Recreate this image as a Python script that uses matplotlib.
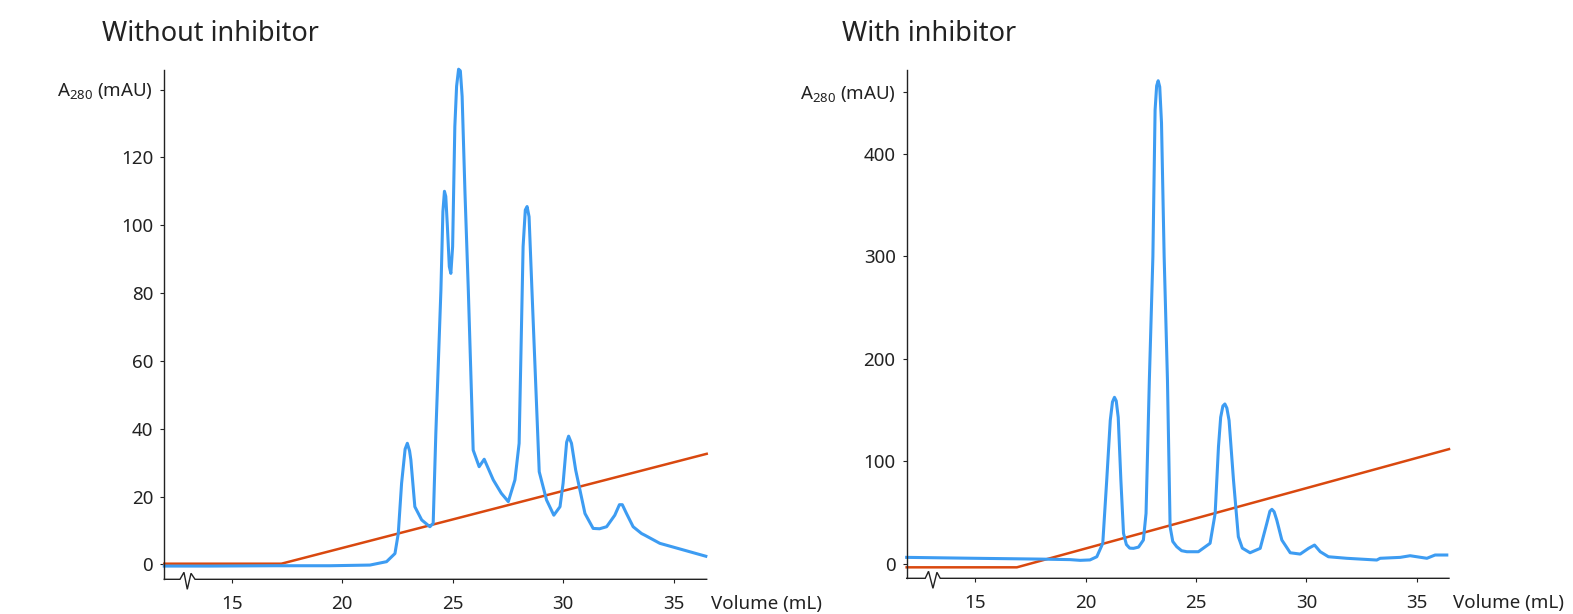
import matplotlib
matplotlib.use("Agg")
import matplotlib.pyplot as plt

plt.rcParams['font.family'] = ['Noto Sans', 'DejaVu Sans']
plt.rcParams['mathtext.fontset'] = 'custom'
plt.rcParams['mathtext.rm'] = 'Noto Sans'

# --- data ---
# without inhibitor: A280 trace (mL, mAU)
vol_a = [11.95, 14.0, 17.0, 19.45, 21.26, 22.01, 22.39, 22.54, 22.69, 22.85, 22.95,
         23.05, 23.11, 23.29, 23.6, 23.97, 24.12, 24.24, 24.47, 24.56, 24.63, 24.69,
         24.76, 24.85, 24.92, 25.0, 25.1, 25.18, 25.27, 25.35, 25.43, 25.56, 25.71,
         25.93, 26.2, 26.43, 26.84, 27.2, 27.52, 27.82, 28.01, 28.19, 28.29, 28.37,
         28.46, 28.59, 28.92, 29.25, 29.58, 29.86, 30.0, 30.16, 30.25, 30.38, 30.57,
         30.99, 31.36, 31.65, 31.97, 32.34, 32.55, 32.68, 32.87, 33.17, 33.55, 33.7,
         34.38, 36.46]
abs_a = [-0.5, -0.5, -0.4, -0.4, -0.2, 0.8, 3.2, 9.1, 23.9, 34.0, 35.7,
         33.5, 30.8, 17.0, 13.1, 11.1, 12.1, 38.6, 80.9, 104.0, 110.0, 108.5,
         100.0, 87.8, 85.8, 93.7, 129.1, 141.0, 146.0, 145.5, 138.0, 109.4, 80.9,
         33.7, 28.8, 31.0, 24.9, 21.0, 18.5, 24.9, 35.7, 93.7, 104.5, 105.5,
         102.5, 80.9, 27.3, 19.0, 14.5, 17.0, 23.9, 36.0, 37.8, 35.7, 27.8,
         15.0, 10.6, 10.5, 11.1, 14.5, 17.6, 17.6, 15.0, 11.1, 9.1, 8.6,
         6.2, 2.4]
grad_vol_a = [11.95, 17.25, 36.5]
grad_a = [0.2, 0.2, 32.6]

# with inhibitor
vol_b = [11.9, 15.0, 18.0, 19.3, 19.76, 20.2, 20.51, 20.78, 20.96, 21.12, 21.22,
         21.31, 21.39, 21.48, 21.6, 21.72, 21.85, 22.0, 22.17, 22.4, 22.62, 22.74,
         22.89, 23.05, 23.15, 23.22, 23.29, 23.36, 23.44, 23.56, 23.71, 23.83, 23.95,
         24.13, 24.35, 24.59, 25.11, 25.64, 25.87, 26.02, 26.12, 26.22, 26.31, 26.4,
         26.5, 26.7, 26.92, 27.1, 27.45, 27.91, 28.21, 28.35, 28.44, 28.54, 28.66,
         28.89, 29.27, 29.72, 30.1, 30.37, 30.63, 31.0, 31.83, 33.19, 33.34, 34.25,
         34.7, 35.46, 35.83, 36.36]
abs_b = [6.5, 5.6, 4.8, 4.3, 3.6, 4.0, 7.1, 20.2, 81.9, 140.0, 158.0,
         162.5, 159.0, 143.0, 81.9, 29.9, 19.0, 15.5, 15.3, 16.5, 23.4, 49.4,
         179.3, 299.5, 442.5, 466.0, 471.0, 465.0, 430.0, 299.5, 179.3, 36.4, 22.0,
         16.9, 13.0, 12.0, 12.0, 20.2, 49.4, 114.3, 143.0, 154.0, 156.0, 152.0,
         140.0, 81.9, 26.6, 15.5, 11.0, 15.3, 39.7, 51.5, 53.3, 51.0, 42.9,
         23.4, 11.0, 9.7, 15.3, 18.5, 12.0, 7.1, 5.6, 3.9, 5.6, 6.5,
         8.1, 5.6, 8.8, 8.8]
grad_vol_b = [11.9, 16.89, 36.46]
grad_b = [-3.2, -3.2, 112.0]

xticks = [15, 20, 25, 30, 35]
yticks_a = [0, 20, 40, 60, 80, 100, 120]
yticks_b = [0, 100, 200, 300, 400]

blue = '#3d9cf2'
orange = '#d9480f'
txt = '#222222'

fig = plt.figure(figsize=(15.73, 6.14), dpi=100)
ax1 = fig.add_axes([0.10445, 0.05651, 0.34482, 0.82915])
ax2 = fig.add_axes([0.5764, 0.05814, 0.34477, 0.8279])


def style(ax, xlim, ylim, yticks, label_pos, brk, axh):
    ax.set_xlim(*xlim)
    ax.set_ylim(*ylim)
    for s in ['top', 'right', 'bottom']:
        ax.spines[s].set_visible(False)
    ax.spines['left'].set_linewidth(1.0)
    ax.spines['left'].set_color(txt)
    ax.set_xticks(xticks)
    ax.set_yticks(yticks + [label_pos])
    ax.set_yticklabels([str(v) for v in yticks] + ['A$_\\mathregular{280}$ (mAU)'])
    ax.tick_params(length=3, width=0.8, colors=txt, labelsize=13.5, pad=5)
    ax.tick_params(axis='x', pad=8)
    # x axis line with a break zigzag
    bx = [xlim[0]] + brk + [xlim[1]]
    by = [0, 0, 7 / axh, -10 / axh, 6 / axh, 0, 0]
    ax.plot(bx, by, color=txt, lw=1.0, transform=ax.get_xaxis_transform(),
            clip_on=False, solid_joinstyle='miter')
    ax.annotate('Volume (mL)', xy=(1, 0), xycoords='axes fraction',
                xytext=(3, -17.5), textcoords='offset points',
                ha='left', va='center', fontsize=13.5, color=txt)


ax1.plot(grad_vol_a, grad_a, color=orange, lw=1.8, clip_on=False)
ax1.plot(vol_a, abs_a, color=blue, lw=2.2, clip_on=False,
         solid_joinstyle='round')
style(ax1, (11.95, 36.5), (-4.4, 145.7), yticks_a, 140,
      [12.66, 12.84, 12.99, 13.16, 13.34], 509)

ax2.plot(grad_vol_b, grad_b, color=orange, lw=1.8, clip_on=False)
ax2.plot(vol_b, abs_b, color=blue, lw=2.2, clip_on=False,
         solid_joinstyle='round')
style(ax2, (11.9, 36.46), (-13.9, 481.5), yticks_b, 460,
      [12.74, 12.89, 13.09, 13.27, 13.42], 508)

fig.text(0.0648, 0.9332, 'Without inhibitor', fontsize=19.5, color=txt, va='baseline')
fig.text(0.5353, 0.9332, 'With inhibitor', fontsize=19.5, color=txt, va='baseline')

fig.savefig('out.png', dpi=100)
